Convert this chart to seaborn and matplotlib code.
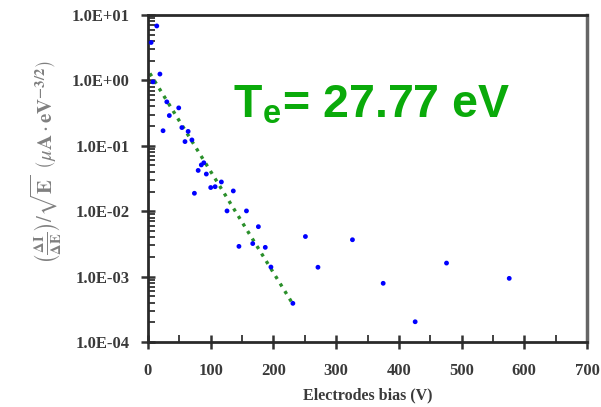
import numpy as np
import pandas as pd
import matplotlib
matplotlib.use('Agg')
import matplotlib.pyplot as plt
import seaborn as sns
from matplotlib.ticker import LogLocator, MultipleLocator, FuncFormatter

# 資料
bias_v = [5, 14, 19, 8, 30, 49, 34, 24, 54, 64, 59, 70, 85, 80, 93, 89,
          117, 100, 107, 74, 136, 126, 157, 176, 145, 167, 187, 196, 231,
          251, 271, 326, 375, 426, 476, 576]
signal = [3.8, 6.8, 1.25, 0.95, 0.47, 0.38, 0.29, 0.17, 0.19, 0.166, 0.116, 0.123,
          0.051, 0.042, 0.037, 0.055, 0.028, 0.023, 0.0237, 0.0188, 0.0204,
          0.0101, 0.0101, 0.0058, 0.0029, 0.0032, 0.0028, 0.0014, 0.00039,
          0.0041, 0.00139, 0.00366, 0.00079, 0.000204, 0.00161, 0.00094]

fit_x = [3, 231]
fit_y = [1.28, 0.00038]

te_label = 'T$_{\\mathregular{e}}$= 27.77 eV'

df = pd.DataFrame({'bias': bias_v, 'sig': signal})
df_fit = pd.DataFrame({'bias': fit_x, 'sig': fit_y})

sns.set_theme(style='ticks')
plt.rcParams['font.family'] = ['Liberation Serif', 'DejaVu Serif']
plt.rcParams['mathtext.fontset'] = 'stix'

fig = plt.figure(figsize=(6.01, 4.07), dpi=100)
ax = fig.add_axes([148 / 601, 1 - 342 / 407, 439 / 601, 327 / 407])

sns.lineplot(data=df_fit, x='bias', y='sig', ax=ax, color='#2a8f2a',
             linestyle=':', linewidth=2.4, zorder=2)
sns.scatterplot(data=df, x='bias', y='sig', ax=ax, color='#0000ff',
                s=12, edgecolor='none', zorder=3)

ax.set_yscale('log')
ax.set_xlim(0, 700)
ax.set_ylim(1e-4, 10)

ax.xaxis.set_major_locator(MultipleLocator(100))
ax.xaxis.set_minor_locator(MultipleLocator(50))
ax.yaxis.set_major_locator(LogLocator(base=10, numticks=10))
ax.yaxis.set_minor_locator(LogLocator(base=10, subs=np.arange(2, 10), numticks=20))
ax.yaxis.set_major_formatter(FuncFormatter(lambda v, p: f'{v:.1E}'))

ax.tick_params(axis='both', which='major', direction='inout', length=10,
               width=1.8, color='#333333', labelsize=12, labelcolor='#3a3a3a')
ax.tick_params(axis='both', which='minor', direction='in', length=5,
               width=1.3, color='#333333')
ax.tick_params(axis='x', which='major', pad=10)
ax.tick_params(axis='y', which='major', pad=8)
for lab in ax.get_xticklabels() + ax.get_yticklabels():
    lab.set_fontweight('bold')

for side in ['left', 'bottom', 'top']:
    ax.spines[side].set_linewidth(2)
    ax.spines[side].set_color('#2a2a2a')
ax.spines['right'].set_linewidth(2.5)
ax.spines['right'].set_color('#666666')

ax.set_xlabel('Electrodes bias (V)', fontsize=11.5, fontweight='bold',
              color='#3a3a3a', labelpad=6)
ax.set_ylabel('')

fig.text(46 / 601, 1 - 162 / 407,
         r'$\left(\frac{\mathbf{\Delta I}}{\mathbf{\Delta E}}\right)/\sqrt{\mathbf{E}}\;\;\left(\mu\mathbf{A}\cdot\mathbf{eV}^{\mathbf{-3/2}}\right)$',
         rotation=90, ha='center', va='center', fontsize=15, color='#808080')

ax.text(0.194, 0.685, te_label, transform=ax.transAxes, fontsize=33.5,
        fontweight='bold', color='#0aaa0a', family=['Liberation Sans', 'DejaVu Sans'],
        ha='left', va='baseline')

fig.savefig('out.png', dpi=100, facecolor='white')
